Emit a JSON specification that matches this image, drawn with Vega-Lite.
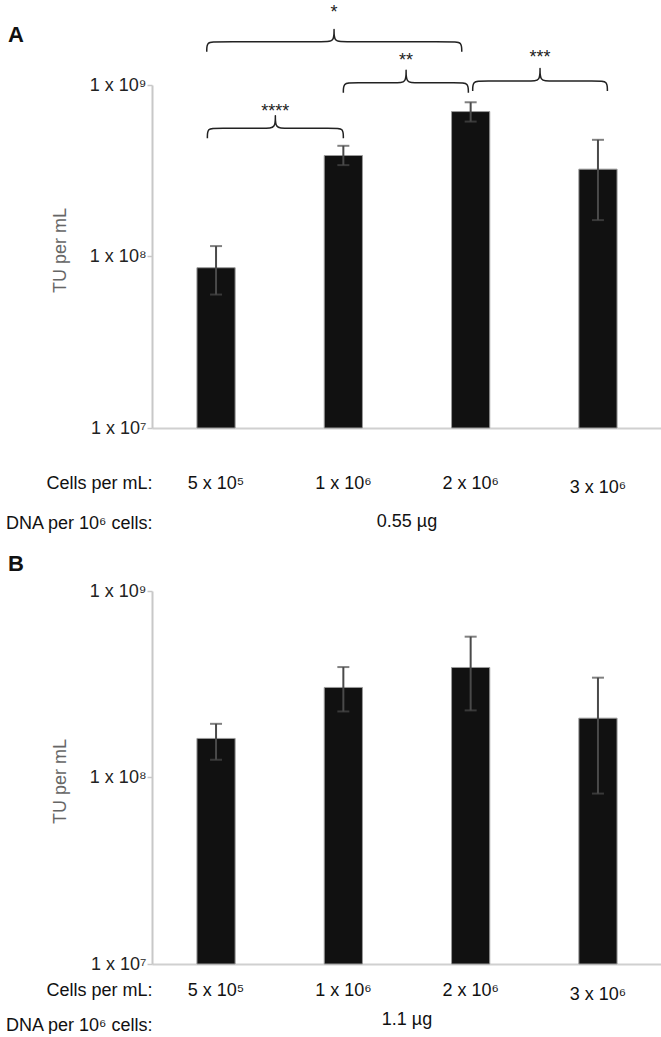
{
  "$schema": "https://vega.github.io/schema/vega-lite/v6.json",
  "padding": {"left": 4, "top": 4, "right": 0, "bottom": 0},
  "background": "white",
  "bounds": "flush",
  "spacing": 163,
  "config": {
    "view": {"stroke": null},
    "font": "Liberation Sans",
    "axis": {"grid": false, "labelFont": "Liberation Sans", "titleFont": "Liberation Sans"}
  },
  "datasets": {
    "barsA": [
      {"cells": "5 x 10⁵", "tu": 8.6e7, "lo": 6.0e7, "hi": 1.15e8},
      {"cells": "1 x 10⁶", "tu": 3.88e8, "lo": 3.41e8, "hi": 4.42e8},
      {"cells": "2 x 10⁶", "tu": 7.0e8, "lo": 6.12e8, "hi": 7.93e8},
      {"cells": "3 x 10⁶", "tu": 3.23e8, "lo": 1.63e8, "hi": 4.79e8}
    ],
    "barsB": [
      {"cells": "5 x 10⁵", "tu": 1.62e8, "lo": 1.245e8, "hi": 1.94e8},
      {"cells": "1 x 10⁶", "tu": 3.04e8, "lo": 2.26e8, "hi": 3.91e8},
      {"cells": "2 x 10⁶", "tu": 3.89e8, "lo": 2.29e8, "hi": 5.69e8},
      {"cells": "3 x 10⁶", "tu": 2.08e8, "lo": 8.2e7, "hi": 3.43e8}
    ],
    "bracesA": [
      {"brace": "*", "i": 1, "u": -0.073, "tu": 1.562e9},
      {"brace": "*", "i": 2, "u": -0.073, "tu": 1.785e9},
      {"brace": "*", "i": 3, "u": -0.003, "tu": 1.785e9},
      {"brace": "*", "i": 4, "u": 0.857, "tu": 1.785e9},
      {"brace": "*", "i": 5, "u": 0.927, "tu": 1.785e9},
      {"brace": "*", "i": 6, "u": 0.927, "tu": 2.125e9},
      {"brace": "*", "i": 7, "u": 0.927, "tu": 2.125e9},
      {"brace": "*", "i": 8, "u": 0.927, "tu": 1.785e9},
      {"brace": "*", "i": 9, "u": 0.997, "tu": 1.785e9},
      {"brace": "*", "i": 10, "u": 1.86, "tu": 1.785e9},
      {"brace": "*", "i": 11, "u": 1.93, "tu": 1.785e9},
      {"brace": "*", "i": 12, "u": 1.93, "tu": 1.562e9},
      {"brace": "**", "i": 1, "u": 1.0, "tu": 9.02e8},
      {"brace": "**", "i": 2, "u": 1.0, "tu": 1.031e9},
      {"brace": "**", "i": 3, "u": 1.07, "tu": 1.031e9},
      {"brace": "**", "i": 4, "u": 1.423, "tu": 1.031e9},
      {"brace": "**", "i": 5, "u": 1.493, "tu": 1.031e9},
      {"brace": "**", "i": 6, "u": 1.493, "tu": 1.227e9},
      {"brace": "**", "i": 7, "u": 1.493, "tu": 1.227e9},
      {"brace": "**", "i": 8, "u": 1.493, "tu": 1.031e9},
      {"brace": "**", "i": 9, "u": 1.563, "tu": 1.031e9},
      {"brace": "**", "i": 10, "u": 1.912, "tu": 1.031e9},
      {"brace": "**", "i": 11, "u": 1.982, "tu": 1.031e9},
      {"brace": "**", "i": 12, "u": 1.982, "tu": 9.02e8},
      {"brace": "****", "i": 1, "u": -0.068, "tu": 4.9e8},
      {"brace": "****", "i": 2, "u": -0.068, "tu": 5.6e8},
      {"brace": "****", "i": 3, "u": 0.002, "tu": 5.6e8},
      {"brace": "****", "i": 4, "u": 0.396, "tu": 5.6e8},
      {"brace": "****", "i": 5, "u": 0.466, "tu": 5.6e8},
      {"brace": "****", "i": 6, "u": 0.466, "tu": 6.66e8},
      {"brace": "****", "i": 7, "u": 0.466, "tu": 6.66e8},
      {"brace": "****", "i": 8, "u": 0.466, "tu": 5.6e8},
      {"brace": "****", "i": 9, "u": 0.536, "tu": 5.6e8},
      {"brace": "****", "i": 10, "u": 0.93, "tu": 5.6e8},
      {"brace": "****", "i": 11, "u": 1.0, "tu": 5.6e8},
      {"brace": "****", "i": 12, "u": 1.0, "tu": 4.9e8},
      {"brace": "***", "i": 1, "u": 2.016, "tu": 9.23e8},
      {"brace": "***", "i": 2, "u": 2.016, "tu": 1.055e9},
      {"brace": "***", "i": 3, "u": 2.086, "tu": 1.055e9},
      {"brace": "***", "i": 4, "u": 2.475, "tu": 1.055e9},
      {"brace": "***", "i": 5, "u": 2.545, "tu": 1.055e9},
      {"brace": "***", "i": 6, "u": 2.545, "tu": 1.256e9},
      {"brace": "***", "i": 7, "u": 2.545, "tu": 1.256e9},
      {"brace": "***", "i": 8, "u": 2.545, "tu": 1.055e9},
      {"brace": "***", "i": 9, "u": 2.615, "tu": 1.055e9},
      {"brace": "***", "i": 10, "u": 3.004, "tu": 1.055e9},
      {"brace": "***", "i": 11, "u": 3.074, "tu": 1.055e9},
      {"brace": "***", "i": 12, "u": 3.074, "tu": 9.23e8}
    ],
    "starsA": [
      {"label": "*", "u": 0.927, "tu": 2.452e9},
      {"label": "**", "u": 1.493, "tu": 1.29e9},
      {"label": "****", "u": 0.466, "tu": 6.49e8},
      {"label": "***", "u": 2.545, "tu": 1.337e9}
    ],
    "noteA": [{"label": "0.55 µg", "u": 1.5, "tu": 2.842e6}],
    "noteB": [{"label": "1.1 µg", "u": 1.5, "tu": 5.0e6}]
  },
  "vconcat": [
    {
      "width": 510,
      "height": 343,
      "title": {"text": "A", "anchor": "start", "frame": "group", "dx": -144, "dy": 47, "fontSize": 22, "fontWeight": "bold", "color": "#111"},
      "layer": [
        {
          "layer": [
            {
              "data": {"name": "barsA"},
              "mark": {"type": "bar", "color": "#111111", "stroke": "#9a9a9a", "strokeWidth": 1},
              "encoding": {
                "x": {
                  "field": "cells", "type": "nominal", "sort": null,
                  "scale": {"paddingInner": 0.7, "paddingOuter": 0.353},
                  "axis": {
                    "title": ["Cells per mL:", "DNA per 10⁶ cells:"],
                    "titleAlign": "right", "titleAnchor": "start", "titleX": 0, "titleY": 46, "titleBaseline": "top",
                    "titleFontSize": 18, "titleFontWeight": "normal", "titleColor": "#111", "titleLineHeight": 40,
                    "labelAngle": 0, "labelFontSize": 18, "labelColor": "#111", "labelBaseline": "top",
                    "labelPadding": {"condition": {"test": "datum.value == '3 x 10⁶'", "value": 50}, "value": 46},
                    "ticks": false, "tickSize": 0, "domainColor": "#d0d0d0", "domainWidth": 2
                  }
                },
                "y": {
                  "field": "tu", "type": "quantitative",
                  "scale": {"type": "log", "domain": [10000000, 1000000000], "nice": false},
                  "axis": {
                    "title": "TU per mL", "titleX": -92, "titleY": 165, "titleBaseline": "middle", "titleAlign": "center", "titleAngle": -90,
                    "titleFontSize": 18, "titleFontWeight": "normal", "titleColor": "#666",
                    "values": [10000000, 100000000, 1000000000],
                    "labelExpr": "datum.value >= 9e8 ? '1 x 10⁹' : datum.value >= 9e7 ? '1 x 10⁸' : '1 x 10⁷'",
                    "labelFontSize": 18, "labelColor": "#222", "labelPadding": 1,
                    "tickSize": 5, "tickColor": "#c8c8c8", "tickWidth": 1.5, "domainColor": "#c8c8c8", "domainWidth": 2
                  }
                },
                "y2": {"datum": 10000000}
              }
            },
            {
              "data": {"name": "barsA"},
              "mark": {"type": "rule", "color": "#4a4a4a", "strokeWidth": 2},
              "encoding": {
                "x": {"field": "cells", "type": "nominal", "sort": null},
                "y": {"field": "lo", "type": "quantitative"},
                "y2": {"field": "hi"}
              }
            },
            {
              "data": {"name": "barsA"},
              "mark": {"type": "tick", "color": "#4a4a4a", "thickness": 2, "size": 12},
              "encoding": {
                "x": {"field": "cells", "type": "nominal", "sort": null},
                "y": {"field": "hi", "type": "quantitative"}
              }
            },
            {
              "data": {"name": "barsA"},
              "mark": {"type": "tick", "color": "#4a4a4a", "thickness": 2, "size": 12},
              "encoding": {
                "x": {"field": "cells", "type": "nominal", "sort": null},
                "y": {"field": "lo", "type": "quantitative"}
              }
            }
          ]
        },
        {
          "layer": [
            {
              "data": {"name": "bracesA"},
              "mark": {"type": "line", "color": "#222", "strokeWidth": 1.5, "interpolate": "basis"},
              "encoding": {
                "x": {"field": "u", "type": "quantitative", "scale": {"domain": [-0.503, 3.503], "nice": false, "zero": false}, "axis": null},
                "y": {"field": "tu", "type": "quantitative"},
                "detail": {"field": "brace"},
                "order": {"field": "i"}
              }
            },
            {
              "data": {"name": "starsA"},
              "mark": {"type": "text", "fontSize": 18, "baseline": "alphabetic", "align": "center", "color": "#222"},
              "encoding": {
                "x": {"field": "u", "type": "quantitative"},
                "y": {"field": "tu", "type": "quantitative"},
                "text": {"field": "label"}
              }
            },
            {
              "data": {"name": "noteA"},
              "mark": {"type": "text", "fontSize": 18, "baseline": "middle", "align": "center", "color": "#111"},
              "encoding": {
                "x": {"field": "u", "type": "quantitative"},
                "y": {"field": "tu", "type": "quantitative"},
                "text": {"field": "label"}
              }
            }
          ]
        }
      ],
      "resolve": {"scale": {"x": "independent"}, "axis": {"x": "independent"}}
    },
    {
      "width": 510,
      "height": 373,
      "title": {"text": "B", "anchor": "start", "frame": "group", "dx": -144, "dy": -2, "fontSize": 22, "fontWeight": "bold", "color": "#111"},
      "layer": [
        {
          "layer": [
            {
              "data": {"name": "barsB"},
              "mark": {"type": "bar", "color": "#111111", "stroke": "#9a9a9a", "strokeWidth": 1},
              "encoding": {
                "x": {
                  "field": "cells", "type": "nominal", "sort": null,
                  "scale": {"paddingInner": 0.7, "paddingOuter": 0.353},
                  "axis": {
                    "title": ["Cells per mL:", "DNA per 10⁶ cells:"],
                    "titleAlign": "right", "titleAnchor": "start", "titleX": 0, "titleY": 17, "titleBaseline": "top",
                    "titleFontSize": 18, "titleFontWeight": "normal", "titleColor": "#111", "titleLineHeight": 35,
                    "labelAngle": 0, "labelFontSize": 18, "labelColor": "#111", "labelBaseline": "top",
                    "labelPadding": {"condition": {"test": "datum.value == '3 x 10⁶'", "value": 21}, "value": 17},
                    "ticks": false, "tickSize": 0, "domainColor": "#d0d0d0", "domainWidth": 2
                  }
                },
                "y": {
                  "field": "tu", "type": "quantitative",
                  "scale": {"type": "log", "domain": [10000000, 1000000000], "nice": false},
                  "axis": {
                    "title": "TU per mL", "titleX": -92, "titleY": 190, "titleBaseline": "middle", "titleAlign": "center", "titleAngle": -90,
                    "titleFontSize": 18, "titleFontWeight": "normal", "titleColor": "#666",
                    "values": [10000000, 100000000, 1000000000],
                    "labelExpr": "datum.value >= 9e8 ? '1 x 10⁹' : datum.value >= 9e7 ? '1 x 10⁸' : '1 x 10⁷'",
                    "labelFontSize": 18, "labelColor": "#222", "labelPadding": 1,
                    "tickSize": 5, "tickColor": "#c8c8c8", "tickWidth": 1.5, "domainColor": "#c8c8c8", "domainWidth": 2
                  }
                },
                "y2": {"datum": 10000000}
              }
            },
            {
              "data": {"name": "barsB"},
              "mark": {"type": "rule", "color": "#4a4a4a", "strokeWidth": 2},
              "encoding": {
                "x": {"field": "cells", "type": "nominal", "sort": null},
                "y": {"field": "lo", "type": "quantitative"},
                "y2": {"field": "hi"}
              }
            },
            {
              "data": {"name": "barsB"},
              "mark": {"type": "tick", "color": "#4a4a4a", "thickness": 2, "size": 12},
              "encoding": {
                "x": {"field": "cells", "type": "nominal", "sort": null},
                "y": {"field": "hi", "type": "quantitative"}
              }
            },
            {
              "data": {"name": "barsB"},
              "mark": {"type": "tick", "color": "#4a4a4a", "thickness": 2, "size": 12},
              "encoding": {
                "x": {"field": "cells", "type": "nominal", "sort": null},
                "y": {"field": "lo", "type": "quantitative"}
              }
            }
          ]
        },
        {
          "data": {"name": "noteB"},
          "mark": {"type": "text", "fontSize": 18, "baseline": "middle", "align": "center", "color": "#111"},
          "encoding": {
            "x": {"field": "u", "type": "quantitative", "scale": {"domain": [-0.503, 3.503], "nice": false, "zero": false}, "axis": null},
            "y": {"field": "tu", "type": "quantitative"},
            "text": {"field": "label"}
          }
        }
      ],
      "resolve": {"scale": {"x": "independent"}, "axis": {"x": "independent"}}
    }
  ]
}
